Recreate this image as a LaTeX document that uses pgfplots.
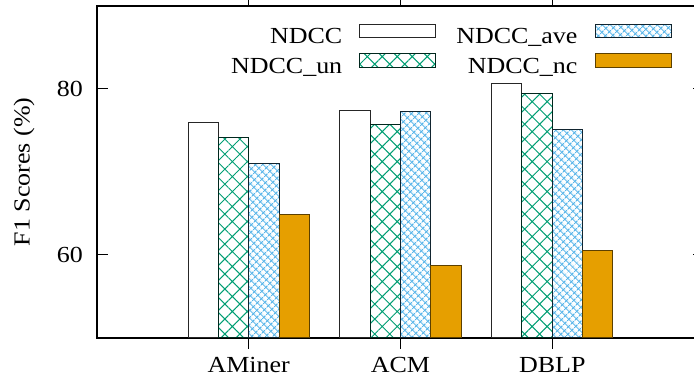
\documentclass[border=0pt]{standalone}
\usepackage{fontspec}
\setmainfont{Liberation Serif}[FakeStretch=1.13]
\usepackage{pgfplots}
\pgfplotsset{compat=1.18}
\usetikzlibrary{patterns.meta}
\definecolor{cgreen}{HTML}{009E73}
\definecolor{cblue}{HTML}{56B4E9}
\definecolor{corange}{HTML}{E69F00}
\pgfplotsset{mylegend/.style={legend image code/.code={\draw[##1,line width=1bp] (0bp,0.5bp) rectangle (76bp,14bp);}}}
\begin{document}
\fontsize{23bp}{27bp}\selectfont
\begin{tikzpicture}
\begin{axis}[
 name=ax, at={(0,0)}, anchor=south west,
 scale only axis, width=607bp, height=332bp,
 xmin=0, xmax=4, ymin=50, ymax=90,
 xtick={1,2,3}, xticklabels={AMiner,ACM,DBLP},
 ytick={60,80},
 /pgf/number format/assume math mode=true,
 major tick length=11bp,
 tick style={line width=1bp, black},
 axis line style={line width=2bp},
 xticklabel style={inner sep=0pt, anchor=north, yshift=-8bp},
 yticklabel style={inner sep=0pt, anchor=east, xshift=-14bp},
 ylabel={F1 Scores (\%)},
 every axis y label/.style={at={(rel axis cs:0,0.5)}, anchor=center, xshift=-73bp, rotate=90},
 ybar, bar width=0.2,
 legend columns=2, transpose legend, legend plot pos=right,
 legend cell align=right,
 legend style={at={(rel axis cs:0.9465,0.946)}, anchor=north east, draw=none, fill=none,
   inner sep=0pt, outer sep=0pt, row sep=4.5bp, column sep=17bp,
   /tikz/every even column/.append style={column sep=20bp},
   nodes={inner sep=0pt, text height=16bp, text depth=5bp}},
]
\addplot[draw=black!85, fill=white, line width=1bp, bar shift=-0.3, mylegend]
 coordinates {(1,76.0) (2,77.45) (3,80.7)};
\addplot[draw=black!75!cgreen, line width=1bp, pattern={Hatch[angle=45,distance=10.6bp,line width=1bp]}, pattern color=cgreen, bar shift=-0.1, mylegend]
 coordinates {(1,74.2) (2,75.7) (3,79.4)};
\addplot[draw=black!80!cblue, line width=1bp, pattern={Hatch[angle=45,distance=5.2bp,line width=1bp]}, pattern color=cblue, bar shift=0.1, mylegend]
 coordinates {(1,71.0) (2,77.3) (3,75.15)};
\addplot[draw=corange!40!black, fill=corange, line width=1bp, bar shift=0.3, mylegend]
 coordinates {(1,64.9) (2,58.75) (3,60.5)};
\legend{NDCC,NDCC\_un,NDCC\_ave,NDCC\_nc}
\end{axis}
\pgfresetboundingbox
\path[use as bounding box] ([xshift=-97bp,yshift=-41bp]ax.south west) rectangle ([xshift=-10bp,yshift=6bp]ax.north east);
\end{tikzpicture}
\end{document}
